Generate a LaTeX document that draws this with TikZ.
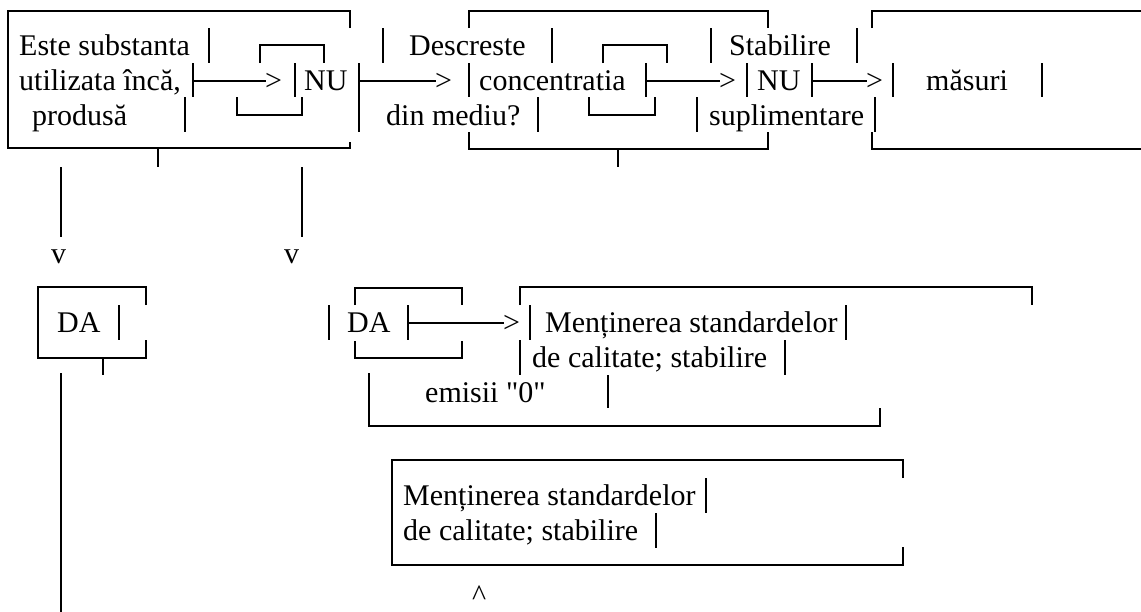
\documentclass[tikz,border=0pt]{standalone}
\usepackage{fontspec}
\newfontfamily\tnr{Liberation Serif}
\begin{document}
\begin{tikzpicture}[x=1pt,y=-1pt,
  ln/.style={line width=2pt},
  txt/.style={anchor=base west,inner sep=0pt,font=\tnr\fontsize{30}{35}\selectfont}]
\useasboundingbox (0,0) rectangle (1141,611);
% ---------- texts ----------
\node[txt] (a1) at (19,55) {Este substanta};
\node[txt] (a2) at (19,90) {utilizata încă,};
\node[txt] (a3) at (32,125) {produsă};
\node[txt] (nu1) at (304,90) {NU};
\node[txt] (b1) at (409,55) {Descreste};
\node[txt] (b2) at (479,90) {concentratia};
\node[txt] (b3) at (386,125) {din mediu?};
\node[txt] (c1) at (729,55) {Stabilire};
\node[txt] (nu2) at (757,90) {NU};
\node[txt] (c3) at (709,125) {suplimentare};
\node[txt] (m) at (926,90) {măsuri};
\node[txt] (g1) at (265,90) {>};
\node[txt] (g2) at (435,90) {>};
\node[txt] (g3) at (719,90) {>};
\node[txt] (g4) at (866,90) {>};
\node[txt] (g5) at (503,332) {>};
\node[txt] (v1) at (51,263) {v};
\node[txt] (v2) at (284,263) {v};
\node[txt] (da1) at (57,332) {DA};
\node[txt] (da2) at (347,332) {DA};
\node[txt] (mn1) at (545,332) {Menținerea standardelor};
\node[txt] (dc1) at (532,367) {de calitate; stabilire};
\node[txt] (em) at (425,402) {emisii "0"};
\node[txt] (mn2) at (403,505) {Menținerea standardelor};
\node[txt] (dc2) at (403,540) {de calitate; stabilire};
\node[txt,text depth=0pt] (car) at (472,605) {\textasciicircum};
% ---------- box 1 ----------
\draw[ln] (350,28) -- (350,11) -- (8,11) -- (8,148) -- (350,148) -- (350,142);
\draw[ln] (158,148) -- (158,167);
\draw[ln] (209,28) -- (209,63);
\draw[ln] (193,63) -- (193,97);
\draw[ln] (193,81) -- (266,81);
\draw[ln] (260,63) -- (260,45) -- (324,45) -- (324,63);
\draw[ln] (295,63) -- (295,97);
\draw[ln] (237,97) -- (237,115) -- (302,115) -- (302,97);
\draw[ln] (185,97) -- (185,132);
\draw[ln] (383,28) -- (383,63);
\draw[ln] (359,63) -- (359,97);
\draw[ln] (359,81) -- (436,81);
\draw[ln] (359,97) -- (359,132);
\draw[ln] (61,167) -- (61,237);
\draw[ln] (302,167) -- (302,237);
% ---------- box 2 ----------
\draw[ln] (469,28) -- (469,11) -- (768,11) -- (768,28);
\draw[ln] (469,63) -- (469,97);
\draw[ln] (469,132) -- (469,149) -- (768,149) -- (768,132);
\draw[ln] (618,149) -- (618,167);
\draw[ln] (552,28) -- (552,63);
\draw[ln] (603,63) -- (603,45) -- (667,45) -- (667,63);
\draw[ln] (646,63) -- (646,97);
\draw[ln] (646,81) -- (720,81);
\draw[ln] (589,97) -- (589,115) -- (655,115) -- (655,97);
\draw[ln] (538,97) -- (538,132);
\draw[ln] (711,28) -- (711,63);
\draw[ln] (747,63) -- (747,97);
\draw[ln] (697,97) -- (697,132);
\draw[ln] (857,28) -- (857,63);
\draw[ln] (812,63) -- (812,97);
\draw[ln] (812,81) -- (867,81);
\draw[ln] (893,63) -- (893,97);
\draw[ln] (1042,63) -- (1042,97);
\draw[ln] (875,97) -- (875,132);
% ---------- box 4 (cut off) ----------
\draw[ln] (872,28) -- (872,11) -- (1142,11);
\draw[ln] (872,132) -- (872,149) -- (1142,149);
% ---------- row 2 ----------
\draw[ln] (146,305) -- (146,287) -- (38,287) -- (38,358) -- (146,358) -- (146,340);
\draw[ln] (119,305) -- (119,340);
\draw[ln] (103,358) -- (103,375);
\draw[ln] (61,373) -- (61,612);
\draw[ln] (329,305) -- (329,340);
\draw[ln] (355,305) -- (355,288) -- (462,288) -- (462,305);
\draw[ln] (408,305) -- (408,340);
\draw[ln] (408,323) -- (504,323);
\draw[ln] (355,341) -- (355,358) -- (462,358) -- (462,341);
\draw[ln] (520,305) -- (520,287) -- (1032,287) -- (1032,305);
\draw[ln] (530,305) -- (530,340);
\draw[ln] (520,340) -- (520,375);
\draw[ln] (846,305) -- (846,340);
\draw[ln] (785,340) -- (785,375);
\draw[ln] (369,373) -- (369,426) -- (880,426) -- (880,408);
\draw[ln] (608,375) -- (608,408);
% ---------- box 3 ----------
\draw[ln] (903,478) -- (903,460) -- (392,460) -- (392,565) -- (903,565) -- (903,547);
\draw[ln] (706,478) -- (706,513);
\draw[ln] (656,513) -- (656,548);
\end{tikzpicture}
\end{document}
